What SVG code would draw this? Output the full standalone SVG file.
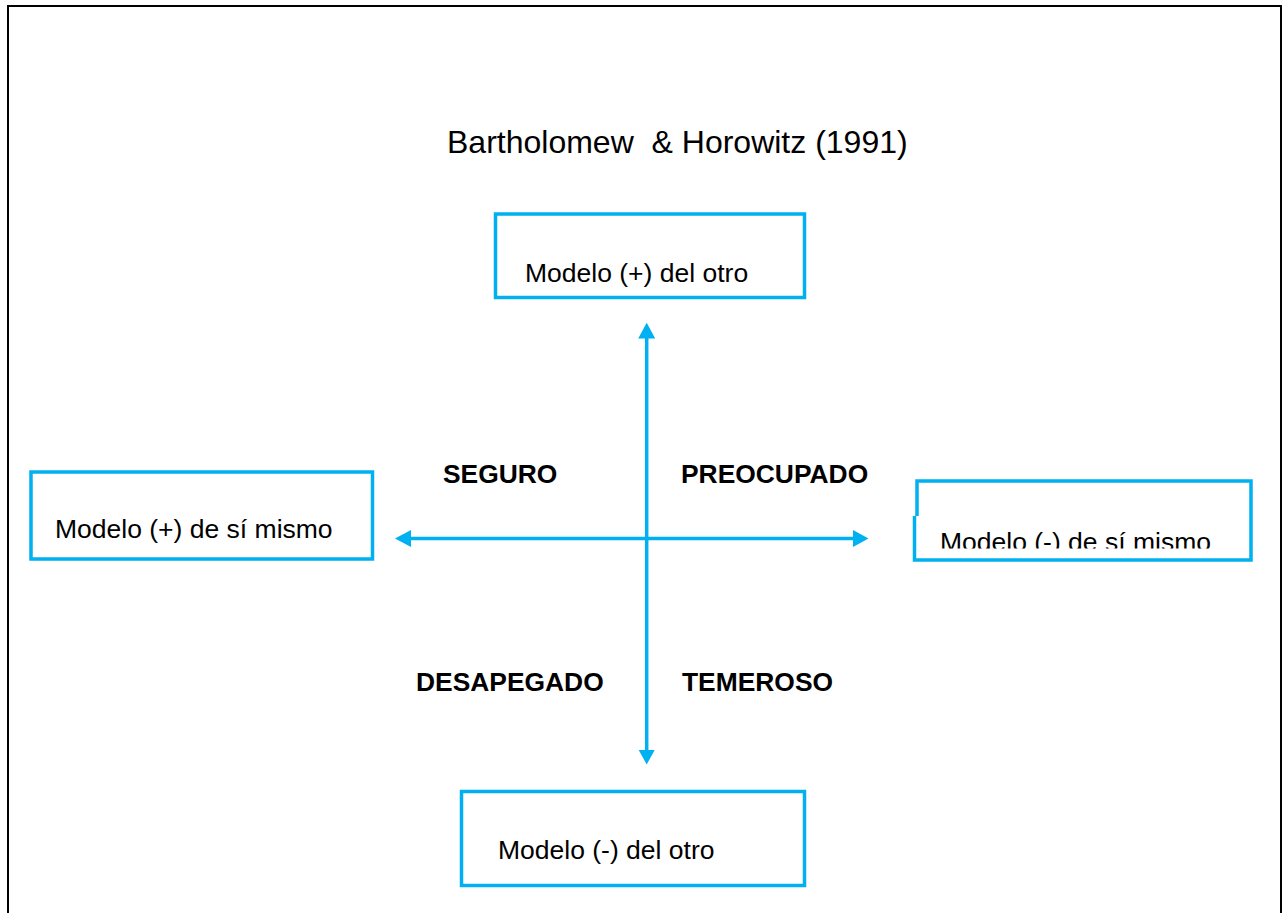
<svg xmlns="http://www.w3.org/2000/svg" width="1282" height="913" viewBox="0 0 1282 913">
  <style>
    .box { fill: #FFFFFF; stroke: #00B0F0; stroke-width: 3.5; }
    .lbl { font-family: "Liberation Sans", Arial, sans-serif; font-size: 26.5px; fill: #000000; }
    .cat { font-family: "Liberation Sans", Arial, sans-serif; font-size: 26.4px; font-weight: bold; fill: #000000; }
    .axis { stroke: #00B0F0; stroke-width: 3.5; fill: none; }
    .head { fill: #00B0F0; }
  </style>
  <defs>
    <clipPath id="clipRight">
      <rect x="916" y="483" width="334" height="65.5"/>
    </clipPath>
  </defs>
  <rect x="0" y="0" width="1282" height="913" fill="#FFFFFF"/>
  <rect id="frame" x="8" y="6" width="1273" height="930" fill="none" stroke="#000000" stroke-width="2"/>

  <text id="title" x="447" y="153" font-family="Liberation Sans, Arial, sans-serif" font-size="32" fill="#000000" xml:space="preserve">Bartholomew  &amp; Horowitz (1991)</text>

  <g id="connectors">
    <line class="axis" x1="646.7" y1="336" x2="646.7" y2="752"/>
    <polygon class="head" points="646.7,322.7 638.2,338.5 655.2,338.5"/>
    <polygon class="head" points="646.7,764.5 638.7,750 654.7,750"/>
    <line class="axis" x1="409" y1="538.5" x2="855" y2="538.5"/>
    <polygon class="head" points="395,538.5 411,530 411,547"/>
    <polygon class="head" points="868.5,538.5 853,530 853,547"/>
  </g>

  <g id="node-top">
    <rect class="box" x="495.5" y="214" width="309" height="83.5"/>
    <text class="lbl" x="525" y="282">Modelo (+) del otro</text>
  </g>

  <g id="node-left">
    <rect class="box" x="31" y="472" width="341.5" height="87"/>
    <text class="lbl" x="55" y="538">Modelo (+) de sí mismo</text>
  </g>

  <g id="node-right">
    <rect x="914.5" y="481" width="336.5" height="79" fill="#FFFFFF"/>
    <path fill="none" stroke="#00B0F0" stroke-width="3.5" d="M917,516 L917,481 L1251,481 L1251,560 L914.5,560 L914.5,516"/>
    <line x1="917" y1="481" x2="917" y2="516" stroke="#00B0F0" stroke-width="2"/>
    <text class="lbl" x="940" y="550.5" clip-path="url(#clipRight)">Modelo (-) de sí mismo</text>
  </g>

  <g id="node-bottom">
    <rect class="box" x="461.5" y="791.5" width="343" height="94"/>
    <text class="lbl" x="498" y="859">Modelo (-) del otro</text>
  </g>

  <g id="labels">
    <text class="cat" x="443" y="483">SEGURO</text>
    <text class="cat" x="681" y="483">PREOCUPADO</text>
    <text class="cat" x="416" y="691">DESAPEGADO</text>
    <text class="cat" x="682" y="691">TEMEROSO</text>
  </g>
</svg>
